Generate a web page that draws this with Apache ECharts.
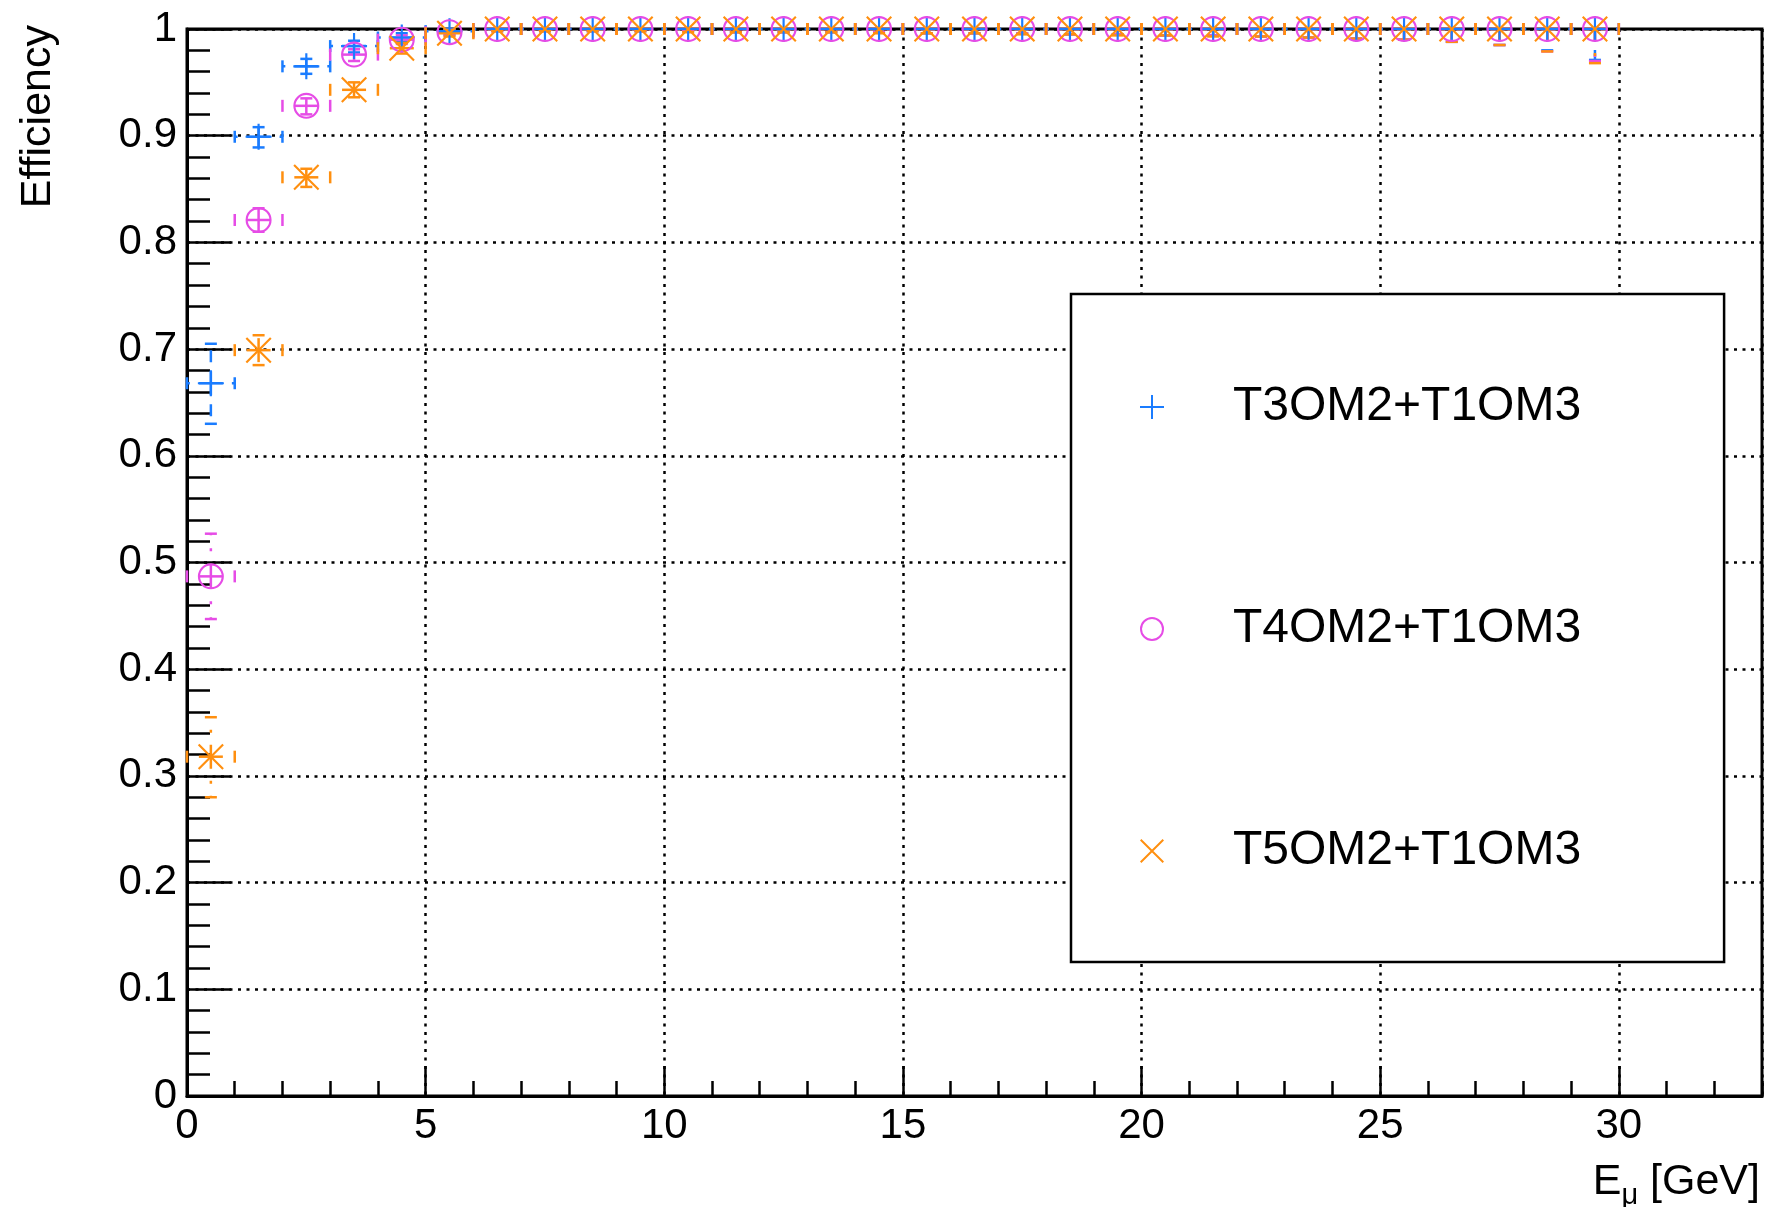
<!DOCTYPE html>
<html><head><meta charset="utf-8">
<script src="https://cdn.jsdelivr.net/npm/echarts@6/dist/echarts.min.js"></script>
<style>html,body{margin:0;padding:0;background:#fff}#c{width:1766px;height:1207px}</style>
</head><body><div id="c"></div>
<script>
// ---------- data ----------
const energy = [0.5,1.5,2.5,3.5,4.5,5.5,6.5,7.5,8.5,9.5,10.5,11.5,12.5,13.5,14.5,15.5,16.5,17.5,18.5,19.5,20.5,21.5,22.5,23.5,24.5,25.5,26.5,27.5,28.5,29.5];
const energyErr = [0.5,0.5,0.5,0.5,0.5,0.5,0.5,0.5,0.5,0.5,0.5,0.5,0.5,0.5,0.5,0.5,0.5,0.5,0.5,0.5,0.5,0.5,0.5,0.5,0.5,0.5,0.5,0.5,0.5,0.5];

const seriesNames = ['T3OM2+T1OM3', 'T4OM2+T1OM3', 'T5OM2+T1OM3'];

const t3Eff     = [0.668,0.899,0.965,0.984,0.992,0.998,1,1,1,1,1,1,1,1,1,1,1,1,1,1,1,1,1,1,1,1,1,1,1,1];
const t3ErrLow  = [0.038,0.010,0.007,0.006,0.004,0.003,0.002,0.002,0.002,0.002,0.002,0.003,0.003,0.003,0.003,0.004,0.004,0.004,0.005,0.005,0.006,0.006,0.007,0.008,0.009,0.010,0.012,0.015,0.020,0.029];
const t3ErrHigh = [0.037,0.009,0.007,0.005,0.004,0.002,0,0,0,0,0,0,0,0,0,0,0,0,0,0,0,0,0,0,0,0,0,0,0,0];

const t4Eff     = [0.487,0.821,0.928,0.976,0.990,0.997,1,1,1,1,1,1,1,1,1,1,1,1,1,1,1,1,1,1,1,1,1,1,1,1];
const t4ErrLow  = [0.040,0.011,0.008,0.006,0.004,0.003,0.002,0.002,0.002,0.002,0.002,0.003,0.003,0.003,0.003,0.004,0.004,0.004,0.005,0.005,0.006,0.006,0.007,0.008,0.009,0.010,0.012,0.015,0.021,0.030];
const t4ErrHigh = [0.040,0.011,0.007,0.005,0.004,0.002,0,0,0,0,0,0,0,0,0,0,0,0,0,0,0,0,0,0,0,0,0,0,0,0];

const t5Eff     = [0.318,0.699,0.861,0.943,0.982,0.996,1,1,1,1,1,1,1,1,1,1,1,1,1,1,1,1,1,1,1,1,1,1,1,1];
const t5ErrLow  = [0.038,0.014,0.009,0.007,0.005,0.003,0.002,0.002,0.002,0.002,0.003,0.003,0.003,0.003,0.004,0.004,0.004,0.005,0.005,0.006,0.006,0.007,0.007,0.008,0.009,0.010,0.012,0.015,0.021,0.032];
const t5ErrHigh = [0.037,0.014,0.008,0.007,0.005,0.003,0,0,0,0,0,0,0,0,0,0,0,0,0,0,0,0,0,0,0,0,0,0,0,0];

const xMin = 0, xMax = 33, xMajor = 5, xMinor = 1;
const yMin = 0, yMax = 1, yMajor = 0.1;

// ---------- styles ----------
const FONT = '"Liberation Sans", Arial, Helvetica, sans-serif';
const colors = ['#1a7cff', '#e64ce6', '#ff8f0f'];
const dashes = [[12, 9], [12, 13, 3, 13], [12, 12, 3, 12]];
const plusPath = 'path://M11,0H13V11H24V13H13V24H11V13H0V11H11Z';
const ringPath = 'path://M0,12A12,12 0 1,1 24,12A12,12 0 1,1 0,12Z M2,12A10,10 0 1,0 22,12A10,10 0 1,0 2,12Z';
const crossPath = 'path://M0,1.4L1.4,0L24,22.6L22.6,24Z M22.6,0L24,1.4L1.4,24L0,22.6Z';
const symbols = [plusPath, ringPath, crossPath];

const effs = [t3Eff, t4Eff, t5Eff];
const lows = [t3ErrLow, t4ErrLow, t5ErrLow];
const highs = [t3ErrHigh, t4ErrHigh, t5ErrHigh];

function errRender(color, dash) {
  return function (params, api) {
    const x = api.value(0), y = api.value(1), el = api.value(2), eh = api.value(3), ex = api.value(4);
    const c = api.coord([x, y]);
    const lo = api.coord([x, y - el]);
    const hi = api.coord([x, y + eh]);
    const l = api.coord([x - ex, y]);
    const r = api.coord([x + ex, y]);
    const st = { stroke: color, lineWidth: 2.5, lineDash: dash, fill: null };
    const cap = { stroke: color, lineWidth: 2.5, fill: null };
    const ch = [];
    const seg = (x1, y1, x2, y2, s) => ch.push({ type: 'line', shape: { x1, y1, x2, y2 }, style: s });
    const k = 6;
    if (eh > 0) { seg(c[0], c[1], hi[0], hi[1], st); seg(hi[0] - k, hi[1], hi[0] + k, hi[1], cap); }
    if (el > 0) { seg(c[0], c[1], lo[0], lo[1], st); seg(lo[0] - k, lo[1], lo[0] + k, lo[1], cap); }
    seg(c[0], c[1], l[0], l[1], st); seg(l[0], l[1] - k, l[0], l[1] + k, cap);
    seg(c[0], c[1], r[0], r[1], st); seg(r[0], r[1] - k, r[0], r[1] + k, cap);
    return { type: 'group', children: ch };
  };
}

const series = [];
for (let s = 0; s < 3; s++) {
  const errData = energy.map((e, i) => [e, effs[s][i], lows[s][i], highs[s][i], energyErr[i]]);
  series.push({
    type: 'custom', name: seriesNames[s] + ' err', xAxisIndex: 0, yAxisIndex: 0,
    renderItem: errRender(colors[s], dashes[s]), data: errData, clip: false,
    encode: { x: 0, y: 1 }, z: 3 + s, silent: true
  });
}
for (let s = 0; s < 3; s++) {
  series.push({
    type: 'scatter', name: seriesNames[s], xAxisIndex: 0, yAxisIndex: 0,
    data: energy.map((e, i) => [e, effs[s][i]]),
    symbol: symbols[s], symbolSize: 26, clip: false,
    itemStyle: { color: colors[s], opacity: 1 }, z: 6 + s, silent: true
  });
}

// text measure
const mctx = document.createElement('canvas').getContext('2d');
function tw(t, size) { mctx.font = size + 'px ' + FONT; return mctx.measureText(t).width; }

const xtRight = 1760, xtSize = 43, subSize = 29;
const wGeV = tw(' [GeV]', xtSize), wMu = tw('\u03bc', subSize);

const option = {
  animation: false,
  backgroundColor: '#fff',
  grid: { left: 187, top: 29, width: 1575, height: 1067, show: true, borderColor: '#000', borderWidth: 3, backgroundColor: 'transparent', containLabel: false, outerBoundsMode: 'none' },
  xAxis: [
    {
      type: 'value', min: xMin, max: xMax, interval: xMajor, position: 'bottom',
      axisLine: { show: true, lineStyle: { color: '#000', width: 3 } },
      axisTick: { show: true, inside: true, length: 30, lineStyle: { color: '#000', width: 2.5 } },
      axisLabel: { show: true, margin: 9, fontSize: 42, lineHeight: 42, fontFamily: FONT, color: '#000', showMaxLabel: false,
        formatter: v => (v % xMajor === 0 && v <= 30) ? String(v) : '' },
      splitLine: { show: true, lineStyle: { color: '#000', width: 2.5, type: [3, 5.5] } }
    },
    {
      type: 'value', min: xMin, max: xMax, interval: xMinor, position: 'bottom', gridIndex: 0,
      axisLine: { show: false },
      axisTick: { show: true, inside: true, length: 15, lineStyle: { color: '#000', width: 2.5 } },
      axisLabel: { show: false },
      splitLine: { show: false }
    }
  ],
  yAxis: {
    type: 'value', min: yMin, max: yMax, interval: yMajor,
    axisLine: { show: true, lineStyle: { color: '#000', width: 3 } },
    axisTick: { show: true, inside: true, length: 44, lineStyle: { color: '#000', width: 2.5 } },
    minorTick: { show: true, splitNumber: 5, length: 23, lineStyle: { color: '#000', width: 2.5 } },
    axisLabel: { margin: 10, fontSize: 42, fontFamily: FONT, color: '#000' },
    splitLine: { show: true, lineStyle: { color: '#000', width: 2.5, type: [3, 5.5] } },
    minorSplitLine: { show: false }
  },
  legend: {
    orient: 'vertical', left: 1071, top: 294,
    padding: [88, 143, 86, 69],
    itemGap: 172, itemWidth: 24, itemHeight: 24,
    borderColor: '#000', borderWidth: 2.5, backgroundColor: '#fff',
    selectedMode: false,
    textStyle: { fontSize: 48, lineHeight: 50, fontFamily: FONT, color: '#000', padding: [0, 0, 0, 64] },
    data: seriesNames.map((n, i) => ({ name: n, icon: symbols[i], itemStyle: { color: colors[i] } }))
  },
  graphic: [
    { type: 'text', x: 38, y: 25, rotation: Math.PI / 2,
      style: { text: 'Efficiency', fontSize: 43, fontFamily: FONT, fill: '#000', align: 'right', verticalAlign: 'middle' } },
    { type: 'text', x: xtRight, y: 1182,
      style: { text: ' [GeV]', fontSize: xtSize, fontFamily: FONT, fill: '#000', align: 'right', verticalAlign: 'middle' } },
    { type: 'text', x: xtRight - wGeV, y: 1196,
      style: { text: '\u03bc', fontSize: subSize, fontFamily: FONT, fill: '#000', align: 'right', verticalAlign: 'middle' } },
    { type: 'text', x: xtRight - wGeV - wMu, y: 1182,
      style: { text: 'E', fontSize: xtSize, fontFamily: FONT, fill: '#000', align: 'right', verticalAlign: 'middle' } }
  ],
  series: series
};

const chart = echarts.init(document.getElementById('c'), null, { renderer: 'canvas' });
chart.setOption(option);
</script>
</body></html>
